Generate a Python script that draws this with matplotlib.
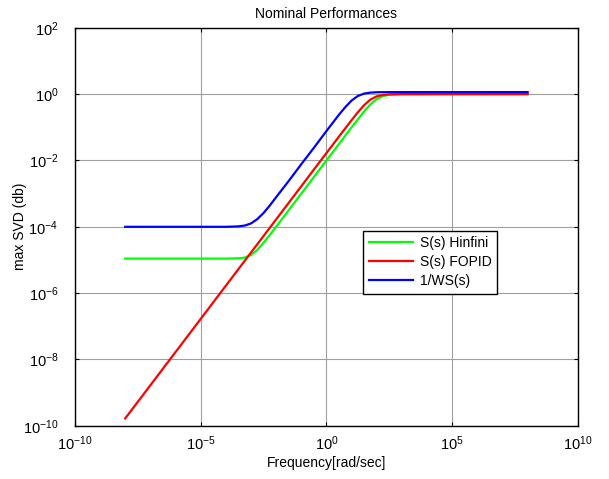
import numpy as np
import matplotlib
matplotlib.use('Agg')
import matplotlib.pyplot as plt

plt.rcParams['font.family'] = ['Liberation Sans', 'DejaVu Sans']
plt.rcParams['mathtext.fontset'] = 'custom'
plt.rcParams['mathtext.rm'] = 'Liberation Sans'
plt.rcParams['mathtext.it'] = 'Liberation Sans:italic'
plt.rcParams['mathtext.bf'] = 'Liberation Sans:bold'

# frequencies (rad/sec) and max SVD
w_hinf = [1e-8, 1e-4, 3.16e-4, 5.62e-4, 1e-3, 1.78e-3, 3.16e-3, 5.62e-3, 1e-2, 1e-1, 1, 10,
          31.6, 56.2, 100, 178, 316, 562, 1000, 1e8]
s_hinf = [1.1e-5, 1.1e-5, 1.12e-5, 1.18e-5, 1.4e-5, 2.0e-5, 3.3e-5, 5.7e-5, 1.0e-4, 1.0e-3,
          1.0e-2, 0.0995, 0.302, 0.49, 0.707, 0.872, 0.953, 0.985, 0.995, 1.0]

w_fopid = [1e-8, 1e-1, 0.316, 1, 3.16, 10, 17.8, 31.6, 56.2, 100, 178, 316, 1000, 1e8]
s_fopid = [1.67e-10, 1.67e-3, 5.3e-3, 1.67e-2, 5.26e-2, 0.164, 0.284, 0.466, 0.684, 0.857,
           0.947, 0.982, 0.998, 1.0]

w_ws = [1e-8, 1e-4, 3.16e-4, 5.62e-4, 1e-3, 1.78e-3, 3.16e-3, 5.62e-3, 1e-2, 3.16e-2, 1e-1,
        0.316, 1, 3.16, 5.62, 10, 17.8, 31.6, 56.2, 100, 316, 1000, 1e8]
inv_ws = [1.0e-4, 1.0e-4, 1.03e-4, 1.09e-4, 1.26e-4, 1.7e-4, 2.6e-4, 4.4e-4, 7.8e-4, 2.4e-3,
          7.7e-3, 2.4e-2, 7.7e-2, 0.24, 0.405, 0.64, 0.88, 1.04, 1.11, 1.14, 1.15, 1.15, 1.15]

fig = plt.figure(figsize=(6.09, 4.79), dpi=100)
ax = fig.add_axes([0.123, 0.111, 0.826, 0.831])

ax.loglog(w_hinf, s_hinf, color='#00ff00', lw=1.6, label='S(s) Hinfini')
ax.loglog(w_fopid, s_fopid, color='#ff0000', lw=1.6, label='S(s) FOPID')
ax.loglog(w_ws, inv_ws, color='#0000ff', lw=1.6, label='1/WS(s)')

ax.set_xlim(1e-10, 1e10)
ax.set_ylim(1e-10, 1e2)
ax.set_xticks([1e-10, 1e-5, 1e0, 1e5, 1e10])
ax.set_yticks([1e-10, 1e-8, 1e-6, 1e-4, 1e-2, 1e0, 1e2])
ax.minorticks_off()
ax.tick_params(which='both', direction='in', top=True, right=True, length=3, width=0.8,
               labelsize=10.5)
ax.tick_params(axis='y', pad=12)
ax.tick_params(axis='x', pad=6)
ax.grid(True, color='#a0a0a0', lw=0.8, ls='-')
ax.set_axisbelow(True)
for sp in ax.spines.values():
    sp.set_linewidth(1.0)
    sp.set_color('black')

ax.set_title('Nominal Performances', fontsize=10, pad=7)
ax.set_xlabel('Frequency[rad/sec]', fontsize=10, labelpad=2)
ax.set_ylabel('max SVD (db)', fontsize=10, labelpad=-3)

leg = ax.legend(loc='upper left', bbox_to_anchor=(0.573, 0.49), fontsize=10, fancybox=False,
                framealpha=1, edgecolor='black', handlelength=3.2, borderpad=0.4,
                labelspacing=0.35, handletextpad=0.5, borderaxespad=0)
leg.get_frame().set_linewidth(1.0)

fig.savefig('out.png', dpi=100)
